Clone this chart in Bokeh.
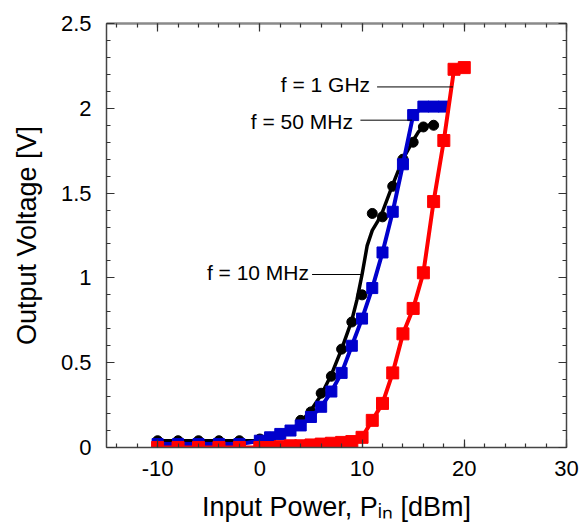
from bokeh.plotting import figure
from bokeh.models import Range1d, LinearAxis, SingleIntervalTicker, Label, CustomJSTickFormatter
from bokeh.embed import file_html
from bokeh.resources import INLINE

# ---- data ----
x_10mhz = [-10, -8, -6, -4, -2, 0, 1, 2, 3, 4, 5, 6, 7, 8, 9, 10, 11, 12, 13, 14, 15, 16, 17]
y_10mhz = [0.04, 0.04, 0.04, 0.04, 0.04, 0.05, 0.06, 0.08, 0.10, 0.16, 0.21, 0.32, 0.42, 0.58, 0.74,
           0.90, 1.38, 1.36, 1.54, 1.70, 1.80, 1.89, 1.90]
# smooth fitted curve drawn through the 10 MHz data
xfit_10mhz = [-10, -8, -6, -4, -2, 0, 1, 2, 3, 4, 5, 6, 7, 8, 9, 9.5, 10, 10.5, 11, 11.5, 12,
              13, 14, 15, 15.5, 16, 17]
yfit_10mhz = [0.04, 0.04, 0.04, 0.04, 0.04, 0.04, 0.05, 0.07, 0.10, 0.15, 0.22, 0.31, 0.43, 0.58,
              0.75, 0.87, 1.02, 1.19, 1.28, 1.33, 1.39, 1.55, 1.70, 1.81, 1.86, 1.89, 1.91]

x_50mhz = [-10, -8, -6, -4, -2, 0, 1, 2, 3, 4, 5, 6, 7, 8, 9, 10, 11, 12, 13, 14, 15, 16, 17, 18]
y_50mhz = [0.02, 0.02, 0.02, 0.02, 0.02, 0.04, 0.06, 0.08, 0.10, 0.13, 0.18, 0.24, 0.33, 0.44,
           0.60, 0.76, 0.94, 1.15, 1.39, 1.67, 1.96, 2.01, 2.01, 2.01]

x_1ghz = [-10, -8, -6, -4, -2, 0, 1, 2, 3, 4, 5, 6, 7, 8, 9, 10, 11, 12, 13, 14, 15, 16, 17, 18, 19, 20]
y_1ghz = [0.0, 0.0, 0.0, 0.0, 0.0, 0.0, 0.0, 0.005, 0.01, 0.01, 0.015, 0.02, 0.025, 0.03, 0.035,
          0.06, 0.16, 0.26, 0.44, 0.67, 0.82, 1.03, 1.45, 1.81, 2.23, 2.24]

x_ticks_labels = ["-10", "0", "10", "20", "30"]
y_ticks_labels = ["0", "0.5", "1", "1.5", "2", "2.5"]

FONT = "Liberation Sans"

p = figure(width=582, height=526, x_range=Range1d(-15, 30), y_range=Range1d(0, 2.5),
           output_backend="svg", toolbar_location=None,
           min_border_left=106, min_border_right=16, min_border_top=23, min_border_bottom=79,
           x_axis_location=None, y_axis_location=None)
p.xgrid.visible = False
p.ygrid.visible = False
p.outline_line_color = None
p.background_fill_color = "white"
p.border_fill_color = "white"

xt = SingleIntervalTicker(interval=10, num_minor_ticks=5)
yt = SingleIntervalTicker(interval=0.5, num_minor_ticks=5)


def style_axis(ax, labels=True, line_color="#444444", line_width=1.5):
    ax.axis_line_color = line_color
    ax.axis_line_width = line_width
    ax.major_tick_line_color = "#333333"
    ax.minor_tick_line_color = "#333333"
    ax.major_tick_in = 8
    ax.major_tick_out = 0
    ax.minor_tick_in = 4
    ax.minor_tick_out = 0
    ax.major_tick_line_width = 1.2
    ax.minor_tick_line_width = 1.2
    if labels:
        ax.major_label_text_font = FONT
        ax.major_label_text_font_size = "22px"
        ax.major_label_text_color = "black"
        ax.major_label_standoff = 13
    else:
        ax.formatter = CustomJSTickFormatter(code="return ''")
        ax.major_label_text_font_size = "1px"
        ax.major_label_standoff = 0


bottom = LinearAxis(ticker=xt)
style_axis(bottom)
bottom.major_label_overrides = {-10: x_ticks_labels[0], 0: x_ticks_labels[1], 10: x_ticks_labels[2],
                                20: x_ticks_labels[3], 30: x_ticks_labels[4]}
bottom.axis_label = "Input Power, P\u1d62\u2099 [dBm]"
bottom.axis_label_text_font = FONT
bottom.axis_label_text_font_size = "27px"
bottom.axis_label_text_font_style = "normal"
bottom.axis_label_text_color = "black"
bottom.axis_label_standoff = 13
p.add_layout(bottom, "below")

left = LinearAxis(ticker=yt)
style_axis(left)
left.major_label_standoff = 15
left.major_label_overrides = {0: y_ticks_labels[0], 0.5: y_ticks_labels[1], 1: y_ticks_labels[2],
                              1.5: y_ticks_labels[3], 2: y_ticks_labels[4], 2.5: y_ticks_labels[5]}
left.axis_label = "Output Voltage [V]"
left.axis_label_text_font = FONT
left.axis_label_text_font_size = "27px"
left.axis_label_text_font_style = "normal"
left.axis_label_text_color = "black"
left.axis_label_standoff = 16
p.add_layout(left, "left")

top = LinearAxis(ticker=xt)
style_axis(top, labels=False, line_color="#8a8a8a", line_width=2.5)
p.add_layout(top, "above")

right = LinearAxis(ticker=yt)
style_axis(right, labels=False)
p.add_layout(right, "right")

# ---- series ----
p.line(xfit_10mhz, yfit_10mhz, line_color="black", line_width=3.5)
p.scatter(x_10mhz, y_10mhz, marker="circle", size=10, fill_color="black", line_color="black")

p.line(x_50mhz, y_50mhz, line_color="#0000cc", line_width=4)
p.scatter(x_50mhz, y_50mhz, marker="square", size=11, fill_color="#0000cc", line_color="#0000cc")

p.line(x_1ghz, y_1ghz, line_color="#ff0000", line_width=4)
p.scatter(x_1ghz, y_1ghz, marker="square", size=12, fill_color="#ff0000", line_color="#ff0000")

# ---- annotations ----
p.segment(x0=[11.47, 9.84, 5.11], y0=[2.126, 1.93, 1.02], x1=[18.9, 14.9, 10.0], y1=[2.126, 1.93, 1.02],
          line_color="black", line_width=1)
for txt, x, y in [("f = 1 GHz", 2.05, 2.14), ("f = 50 MHz", -0.88, 1.92), ("f = 10 MHz", -5.18, 1.03)]:
    p.add_layout(Label(x=x, y=y, text=txt, text_font=FONT, text_font_size="21px",
                       text_color="black", text_align="left", text_baseline="alphabetic"))

open("out.html", "w").write(file_html(p, INLINE))
